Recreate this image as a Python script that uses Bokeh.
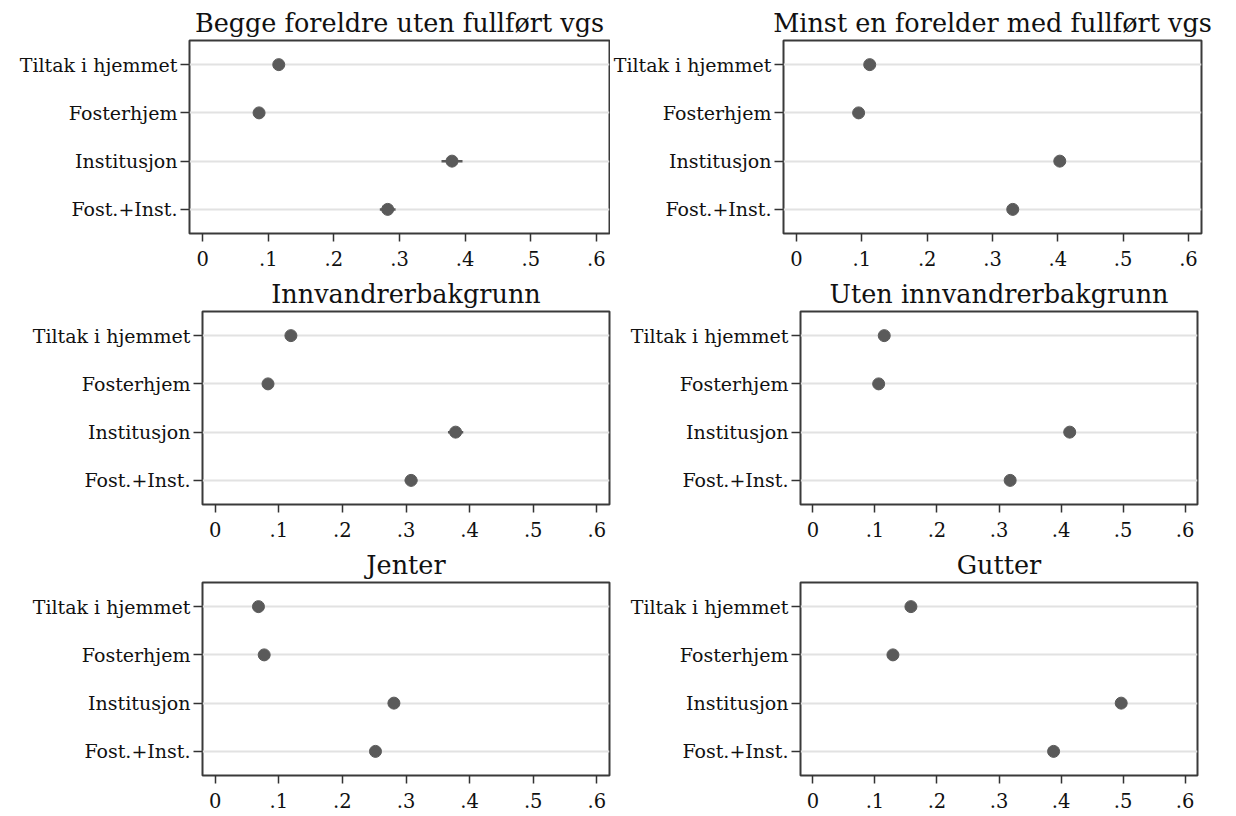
from bokeh.plotting import figure
from bokeh.layouts import column, row
from bokeh.models import FactorRange, Range1d, FixedTicker
from bokeh.embed import file_html
from bokeh.resources import INLINE

# ---- data ----
categories = ["Tiltak i hjemmet", "Fosterhjem", "Institusjon", "Fost.+Inst."]
titles = ["Begge foreldre uten fullført vgs", "Minst en forelder med fullført vgs",
          "Innvandrerbakgrunn", "Uten innvandrerbakgrunn", "Jenter", "Gutter"]

est_begge = [0.116, 0.086, 0.380, 0.282]
est_minst = [0.112, 0.095, 0.403, 0.331]
est_innv = [0.119, 0.083, 0.378, 0.308]
est_uten = [0.115, 0.106, 0.414, 0.318]
est_jenter = [0.068, 0.077, 0.281, 0.252]
est_gutter = [0.158, 0.129, 0.497, 0.388]

ci_begge = [0.006, 0.005, 0.016, 0.012]
ci_minst = [0.004, 0.004, 0.007, 0.006]
ci_innv = [0.007, 0.006, 0.012, 0.010]
ci_uten = [0.003, 0.003, 0.006, 0.005]
ci_jenter = [0.005, 0.004, 0.007, 0.006]
ci_gutter = [0.005, 0.005, 0.008, 0.007]

x_tick_values = [0, 0.1, 0.2, 0.3, 0.4, 0.5, 0.6]
x_tick_labels = ["0", ".1", ".2", ".3", ".4", ".5", ".6"]

estimates = [est_begge, est_minst, est_innv, est_uten, est_jenter, est_gutter]
cis = [ci_begge, ci_minst, ci_innv, ci_uten, ci_jenter, ci_gutter]

FONT = "DejaVu Serif"
DOT = "#5a5a5a"

# layout geometry (left border, frame width, right border) per panel
geom = [(189, 420, 1), (169, 418, 37),
        (202, 407, 3), (188, 397, 37),
        (202, 407, 3), (188, 397, 37)]


def make_panel(i):
    lb, fw, rb = geom[i]
    factors = list(reversed(categories))
    p = figure(y_range=FactorRange(*factors, range_padding=0),
               x_range=Range1d(-0.02, 0.62),
               frame_width=fw, frame_height=193,
               min_border_left=lb, min_border_right=rb,
               min_border_top=40, min_border_bottom=38,
               output_backend="svg", toolbar_location=None,
               title=titles[i])
    p.title.text_font = FONT
    p.title.text_font_size = "25.5px"
    p.title.text_font_style = "normal"
    p.title.align = "center"
    p.title.text_color = "#111111"
    p.title.standoff = 6

    est = estimates[i]
    ci = cis[i]
    lo = [e - c for e, c in zip(est, ci)]
    hi = [e + c for e, c in zip(est, ci)]
    p.segment(x0=lo, x1=hi, y0=categories, y1=categories, line_color=DOT, line_width=2.5)
    p.scatter(x=est, y=categories, size=12, fill_color=DOT, line_color=DOT)

    # axes
    p.xaxis.ticker = FixedTicker(ticks=x_tick_values)
    p.xaxis.major_label_overrides = dict(zip(x_tick_values, x_tick_labels))
    for ax in (p.xaxis[0], p.yaxis[0]):
        ax.axis_line_color = None
        ax.major_tick_line_color = "#333333"
        ax.major_tick_line_width = 1.5
        ax.minor_tick_line_color = None
        ax.major_label_text_font = FONT
        ax.major_label_text_font_size = "19px"
        ax.major_label_text_color = "#111111"
    p.xaxis.major_label_text_font_size = "19.5px"
    p.xaxis.major_tick_out = 8
    p.xaxis.major_tick_in = 0
    p.xaxis.major_label_standoff = 9
    p.yaxis.major_tick_out = 9
    p.yaxis.major_tick_in = 0
    p.yaxis.major_label_standoff = 3

    p.xgrid.grid_line_color = None
    p.ygrid.grid_line_color = "#e2e2e2"
    p.ygrid.grid_line_width = 2

    p.outline_line_color = "#3a3a3a"
    p.outline_line_width = 2
    p.background_fill_color = "white"
    p.border_fill_color = "white"
    return p


panels = [make_panel(i) for i in range(6)]
layout = column(row(panels[0], panels[1], spacing=0),
                row(panels[2], panels[3], spacing=0),
                row(panels[4], panels[5], spacing=0), spacing=0)

open("out.html", "w").write(file_html(layout, INLINE))
